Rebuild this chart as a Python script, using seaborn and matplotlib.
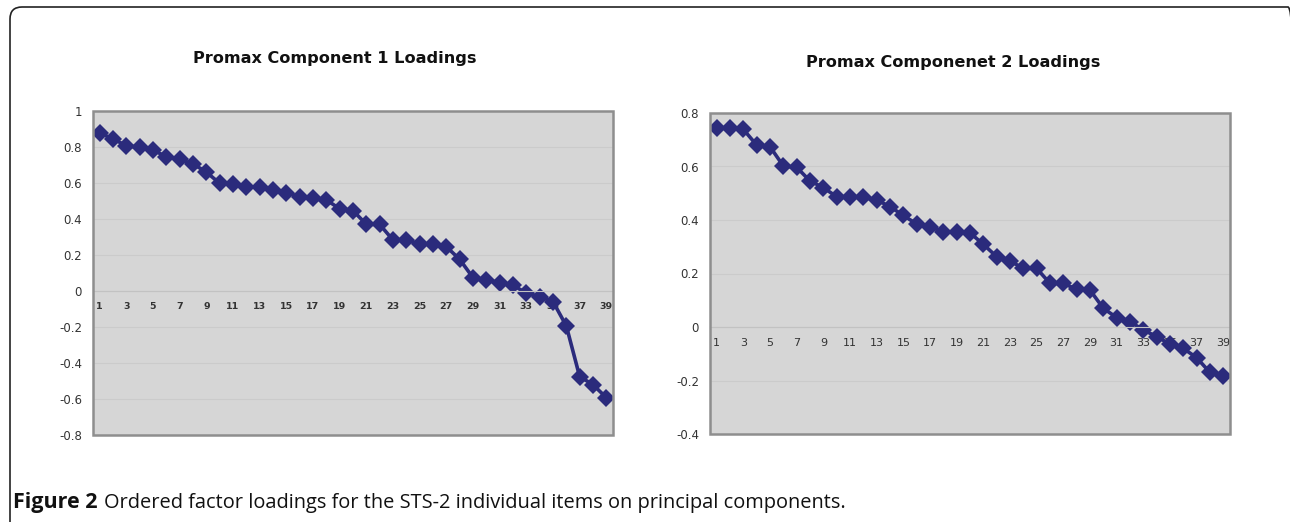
#!/usr/bin/env python
''' Ordered Promax factor loadings for the STS-2 items (two panels).
'''

import matplotlib
matplotlib.use('Agg')
import matplotlib.pyplot as plt
from matplotlib.patches import FancyBboxPatch, Rectangle
from matplotlib.transforms import IdentityTransform
from matplotlib.ticker import FuncFormatter, MultipleLocator
import seaborn as sns

# Item rank (1..39) and the ordered loadings.
items = list(range(1, 40))
comp1_loadings = [0.878, 0.845, 0.807, 0.798, 0.783, 0.746, 0.731, 0.706, 0.661, 0.598,
                  0.593, 0.578, 0.576, 0.561, 0.546, 0.524, 0.515, 0.506, 0.457, 0.447,
                  0.370, 0.370, 0.283, 0.283, 0.261, 0.261, 0.246, 0.176, 0.074, 0.061,
                  0.046, 0.033, -0.013, -0.031, -0.059, -0.194, -0.476, -0.520, -0.593]
comp2_loadings = [0.745, 0.744, 0.739, 0.680, 0.674, 0.602, 0.597, 0.546, 0.521, 0.487,
                  0.487, 0.485, 0.475, 0.450, 0.417, 0.385, 0.375, 0.356, 0.356, 0.352,
                  0.309, 0.263, 0.247, 0.219, 0.219, 0.163, 0.163, 0.141, 0.138, 0.070,
                  0.035, 0.020, -0.011, -0.036, -0.064, -0.080, -0.115, -0.170, -0.182]

panel_titles = ['Promax Component 1 Loadings', 'Promax Componenet 2 Loadings']
y_ranges = [(-0.8, 1.0), (-0.4, 0.8)]
caption_bold = 'Figure 2'
caption_rest = 'Ordered factor loadings for the STS-2 individual items on principal components.'

LINE_COLOR = '#2b2b7c'
PLOT_BG = '#d6d6d6'
FRAME_COLOR = '#8e8e8e'
CAPTION_FONT = ['Open Sans', 'DejaVu Sans']


def draw_panel(ax, loadings, ylim, xtick_size, xtick_weight):
    ''' One Excel-style line chart with diamond markers.
    '''
    ax.set_facecolor(PLOT_BG)
    sns.lineplot(x=items, y=loadings, ax=ax, color=LINE_COLOR, linewidth=2.6,
                 marker='D', markersize=9, markeredgewidth=0, legend=False)

    ax.set_xlim(0.5, 39.5)
    ax.set_ylim(*ylim)
    ax.yaxis.set_major_locator(MultipleLocator(0.2))
    ax.yaxis.set_major_formatter(FuncFormatter(lambda v, _: '{:g}'.format(round(v, 1))))
    ax.grid(axis='y', color='#cbcbcb', linewidth=0.8)
    ax.grid(axis='x', visible=False)
    ax.set_axisbelow(True)

    # category axis crosses the value axis at zero
    for side in ['left', 'right', 'top']:
        ax.spines[side].set_visible(False)
    ax.spines['bottom'].set_position(('data', 0))
    ax.spines['bottom'].set_color('#c2c2c2')
    ax.spines['bottom'].set_linewidth(0.8)
    ax.xaxis.set_major_locator(MultipleLocator(2, offset=1))
    ax.xaxis.set_minor_locator(MultipleLocator(1))
    ax.tick_params(axis='x', which='both', direction='inout', length=4,
                   color='#c2c2c2', labelsize=xtick_size, labelcolor='#333333', pad=6)
    for lab in ax.get_xticklabels():
        lab.set_fontweight(xtick_weight)
    ax.tick_params(axis='y', length=0, labelsize=8.5, labelcolor='#333333', pad=8)
    ax.set_xlabel('')
    ax.set_ylabel('')

    # plot-area frame
    ax.add_patch(Rectangle((0, 0), 1, 1, transform=ax.transAxes, fill=False,
                           edgecolor=FRAME_COLOR, linewidth=1.8, clip_on=False, zorder=5))


def main():
    sns.set_style('white')
    plt.rcParams['font.family'] = ['DejaVu Sans']

    fig = plt.figure(figsize=(12.9, 5.22), dpi=100)
    fig.patch.set_facecolor('white')

    ax1 = fig.add_axes([93 / 1290, 1 - 435 / 522, 520 / 1290, 324 / 522])
    ax2 = fig.add_axes([710 / 1290, 1 - 434 / 522, 520 / 1290, 321 / 522])

    draw_panel(ax1, comp1_loadings, y_ranges[0], 6.8, 'semibold')
    draw_panel(ax2, comp2_loadings, y_ranges[1], 8, 'normal')

    fig.text(335 / 1290, 1 - 59 / 522, panel_titles[0], ha='center', va='center',
             fontsize=11.6, fontweight='bold', color='#111111')
    fig.text(953 / 1290, 1 - 62 / 522, panel_titles[1], ha='center', va='center',
             fontsize=11.6, fontweight='bold', color='#111111')

    # rounded outer frame (only its top and left edges fall inside the image)
    fig.add_artist(FancyBboxPatch((10, -60), 1290, 575, transform=IdentityTransform(),
                                  boxstyle='round,pad=0,rounding_size=12',
                                  fill=False, edgecolor='#222222', linewidth=1.2))

    # caption: bold lead-in, regular remainder on the same baseline
    base_y = 1 - 508 / 522
    lead = fig.text(13 / 1290, base_y, caption_bold, ha='left', va='baseline',
                    fontsize=15.5, fontweight='bold', color='#111111', family=CAPTION_FONT)
    fig.canvas.draw()
    lead_end = lead.get_window_extent().x1 / fig.bbox.width
    fig.text(lead_end + 6 / 1290, base_y, caption_rest, ha='left', va='baseline',
             fontsize=14.4, color='#111111', family=CAPTION_FONT)

    fig.savefig('out.png', dpi=100)


if __name__ == '__main__':
    main()
